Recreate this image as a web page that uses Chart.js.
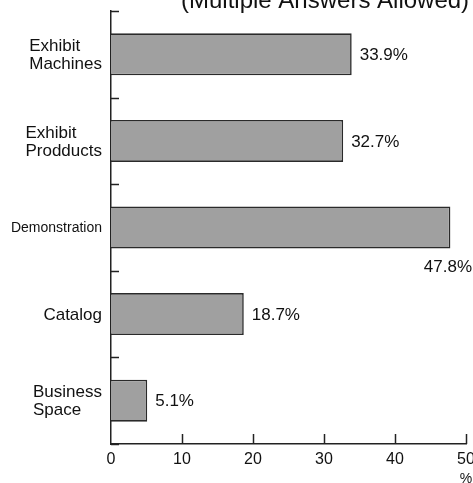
<!DOCTYPE html>
<html>
<head>
<meta charset="utf-8">
<script src="https://cdn.jsdelivr.net/npm/chart.js@4/dist/chart.umd.min.js"></script>
<style>
  html, body { margin: 0; padding: 0; background: #fff; }
  #wrap { width: 473px; height: 483px; }
</style>
</head>
<body>
<div id="wrap"><canvas id="chart" width="473" height="483"></canvas></div>
<script>
// Chart data
const categories = [
  ['Exhibit', 'Machines'],
  ['Exhibit', 'Prodducts'],
  'Demonstration',
  'Catalog',
  ['Business', 'Space']
]
const percentages = [33.9, 32.7, 47.8, 18.7, 5.1]
const xTicks = [0, 10, 20, 30, 40, 50]
const titleText = '(Multiple Answers Allowed)'
const unitText = '%'

const FONT = "'Liberation Sans', Arial, sans-serif"
const INK = '#111'

// Category labels (left-aligned block next to the axis), inner tick marks,
// title, unit and value labels
const decorations = {
  id: 'decorations',
  afterDraw(chart) {
    const { ctx, chartArea, scales } = chart
    const x = scales.x
    const y = scales.y
    ctx.save()
    ctx.strokeStyle = '#222'
    ctx.lineWidth = 1.5

    // category boundary ticks pointing into the plot
    for (let i = 0; i <= categories.length; i++) {
      const py = Math.round(y.getPixelForValue(i - 0.5)) + 0.5
      ctx.beginPath()
      ctx.moveTo(chartArea.left, py)
      ctx.lineTo(chartArea.left + 8, py)
      ctx.stroke()
    }

    // value ticks pointing up from the x axis
    xTicks.slice(1).forEach(v => {
      const px = Math.round(x.getPixelForValue(v)) + 0.5
      ctx.beginPath()
      ctx.moveTo(px, chartArea.bottom)
      ctx.lineTo(px, chartArea.bottom - 10)
      ctx.stroke()
    })

    ctx.fillStyle = INK

    // category labels
    ctx.textBaseline = 'middle'
    ctx.textAlign = 'left'
    categories.forEach((label, i) => {
      const lines = Array.isArray(label) ? label : [label]
      ctx.font = `${lines.length === 1 && lines[0].length > 10 ? 14 : 17}px ${FONT}`
      const blockW = Math.max(...lines.map(l => ctx.measureText(l).width))
      const left = chartArea.left - 9 - blockW
      const cy = y.getPixelForValue(i)
      const lh = 18
      lines.forEach((l, j) => {
        ctx.fillText(l, left, cy + (j - (lines.length - 1) / 2) * lh + 1)
      })
    })

    // value labels
    ctx.font = `17px ${FONT}`
    const meta = chart.getDatasetMeta(0)
    meta.data.forEach((bar, i) => {
      const text = percentages[i].toFixed(1) + '%'
      const w = ctx.measureText(text).width
      if (bar.x + 8 + w > chart.width) {
        ctx.textAlign = 'right'
        ctx.fillText(text, chart.width - 1, bar.y + bar.height / 2 + 19)
      } else {
        ctx.textAlign = 'left'
        ctx.fillText(text, bar.x + 8, bar.y + 1)
      }
    })

    // title, clipped by the top of the canvas
    ctx.font = `24px ${FONT}`
    ctx.textAlign = 'left'
    ctx.textBaseline = 'alphabetic'
    ctx.fillText(titleText, 181, 8)

    // unit under the last tick
    ctx.font = `14px ${FONT}`
    ctx.textAlign = 'center'
    ctx.textBaseline = 'top'
    ctx.fillText(unitText, x.getPixelForValue(xTicks[xTicks.length - 1]), 472)

    ctx.restore()
  }
}

new Chart(document.getElementById('chart'), {
  type: 'bar',
  data: {
    labels: categories,
    datasets: [{
      data: percentages,
      backgroundColor: '#a0a0a0',
      borderColor: '#2a2a2a',
      borderWidth: 1.6,
      categoryPercentage: 0.485,
      barPercentage: 1
    }]
  },
  options: {
    indexAxis: 'y',
    animation: false,
    responsive: false,
    layout: { padding: { top: 11, right: 7, left: 0, bottom: 0 } },
    plugins: {
      legend: { display: false },
      tooltip: { enabled: false }
    },
    scales: {
      x: {
        min: 0,
        max: 50,
        afterBuildTicks: (s) => { s.ticks = xTicks.map(v => ({ value: v })) },
        afterFit: (s) => { s.height = 39; s.paddingLeft = 0; s.paddingRight = 0 },
        grid: { display: false, drawTicks: false },
        border: { display: true, color: '#222', width: 1.5 },
        ticks: {
          color: INK,
          padding: 6,
          maxRotation: 0,
          font: { family: FONT, size: 16 }
        }
      },
      y: {
        afterFit: (s) => { s.width = 111; s.paddingTop = 0; s.paddingBottom = 0 },
        grid: { display: false, drawTicks: false },
        border: { display: true, color: '#222', width: 1.5 },
        // labels are drawn by the decorations plugin so that multi-line
        // labels stay left-aligned as in the original
        ticks: { display: false }
      }
    }
  },
  plugins: [decorations]
})
</script>
</body>
</html>
